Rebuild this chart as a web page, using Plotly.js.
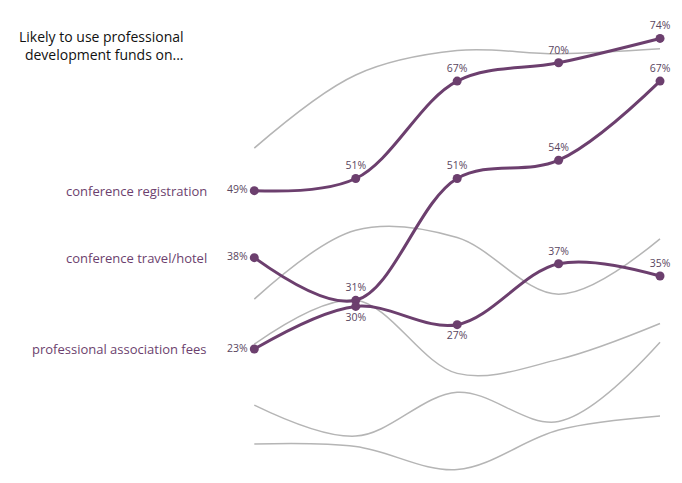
<!DOCTYPE html>
<html>
<head>
<meta charset="utf-8">
<script src="https://cdn.plot.ly/plotly-3.0.1.min.js"></script>
<style>html,body{margin:0;padding:0;background:#fff;}#chart{width:682px;height:483px;}</style>
</head>
<body>
<div id="chart"></div>
<script>
// Five survey waves (x positions)
const waves = [0, 1, 2, 3, 4];

// Highlighted categories
const categories = ["conference registration", "conference travel/hotel", "professional association fees"];
const registration = [49, 51, 67, 70, 74];
const travelHotel = [38, 31, 51, 54, 67];
const associationFees = [23, 30, 27, 37, 35];

// Other (unlabelled) categories shown in grey
const grey1 = [56, 68, 72, 71.5, 72.3];
const grey2 = [31.2, 42.5, 41.3, 32, 41.1];
const grey3 = [23.8, 31, 19, 21.3, 27.2];
const grey4 = [13.8, 8.7, 15.9, 11.1, 24.1];
const grey5 = [7.4, 7.0, 3.2, 9.7, 12.0];

const titleText = "Likely to use professional<br>development funds on...";

const purple = "#6c3f6e";
const greyCol = "#b5b5b5";
const font = "Open Sans, DejaVu Sans, sans-serif";

const pct = arr => arr.map(v => v + "%");

const traces = [];
[grey1, grey2, grey3, grey4, grey5].forEach(g => {
  traces.push({
    x: waves, y: g, type: "scatter", mode: "lines",
    line: {color: greyCol, width: 1.5, shape: "spline", smoothing: 1},
    hoverinfo: "skip", showlegend: false
  });
});

const posts = [
  ["middle left", "top center", "top center", "top center", "top center"],
  ["middle left", "top center", "top center", "top center", "top center"],
  ["middle left", "bottom center", "bottom center", "top center", "top center"]
];
[registration, travelHotel, associationFees].forEach((s, i) => {
  traces.push({
    x: waves, y: s, type: "scatter", mode: "lines+markers+text",
    line: {color: purple, width: 3, shape: "spline", smoothing: 1},
    marker: {color: purple, size: 9},
    text: pct(s), textposition: posts[i],
    textfont: {family: font, size: 10.5, color: "#5a4660"},
    hoverinfo: "skip", showlegend: false, cliponaxis: false
  });
});

const annotations = categories.map((c, i) => ({
  text: c, xref: "paper", yref: "y", x: 209 / 682, y: [registration, travelHotel, associationFees][i][0],
  xanchor: "right", yanchor: "middle", showarrow: false,
  font: {family: font, size: 13, color: purple}
}));
annotations.push({
  text: titleText, xref: "paper", yref: "paper", x: 186 / 682, y: 1 - 25 / 483,
  xanchor: "right", yanchor: "top", align: "right", showarrow: false,
  font: {family: font, size: 14, color: "#111111"}
});

const pxPerX = 101.43, x0px = 254.3;
const pxPerY = 6.09, y0px = 489.1;

const layout = {
  width: 682, height: 483,
  margin: {l: 0, r: 0, t: 0, b: 0},
  paper_bgcolor: "#ffffff", plot_bgcolor: "#ffffff",
  xaxis: {range: [-x0px / pxPerX, (682 - x0px) / pxPerX], visible: false, fixedrange: true},
  yaxis: {range: [(y0px - 483) / pxPerY, y0px / pxPerY], visible: false, fixedrange: true},
  annotations: annotations,
  showlegend: false
};

Plotly.newPlot("chart", traces, layout, {displayModeBar: false, staticPlot: true});
</script>
</body>
</html>
